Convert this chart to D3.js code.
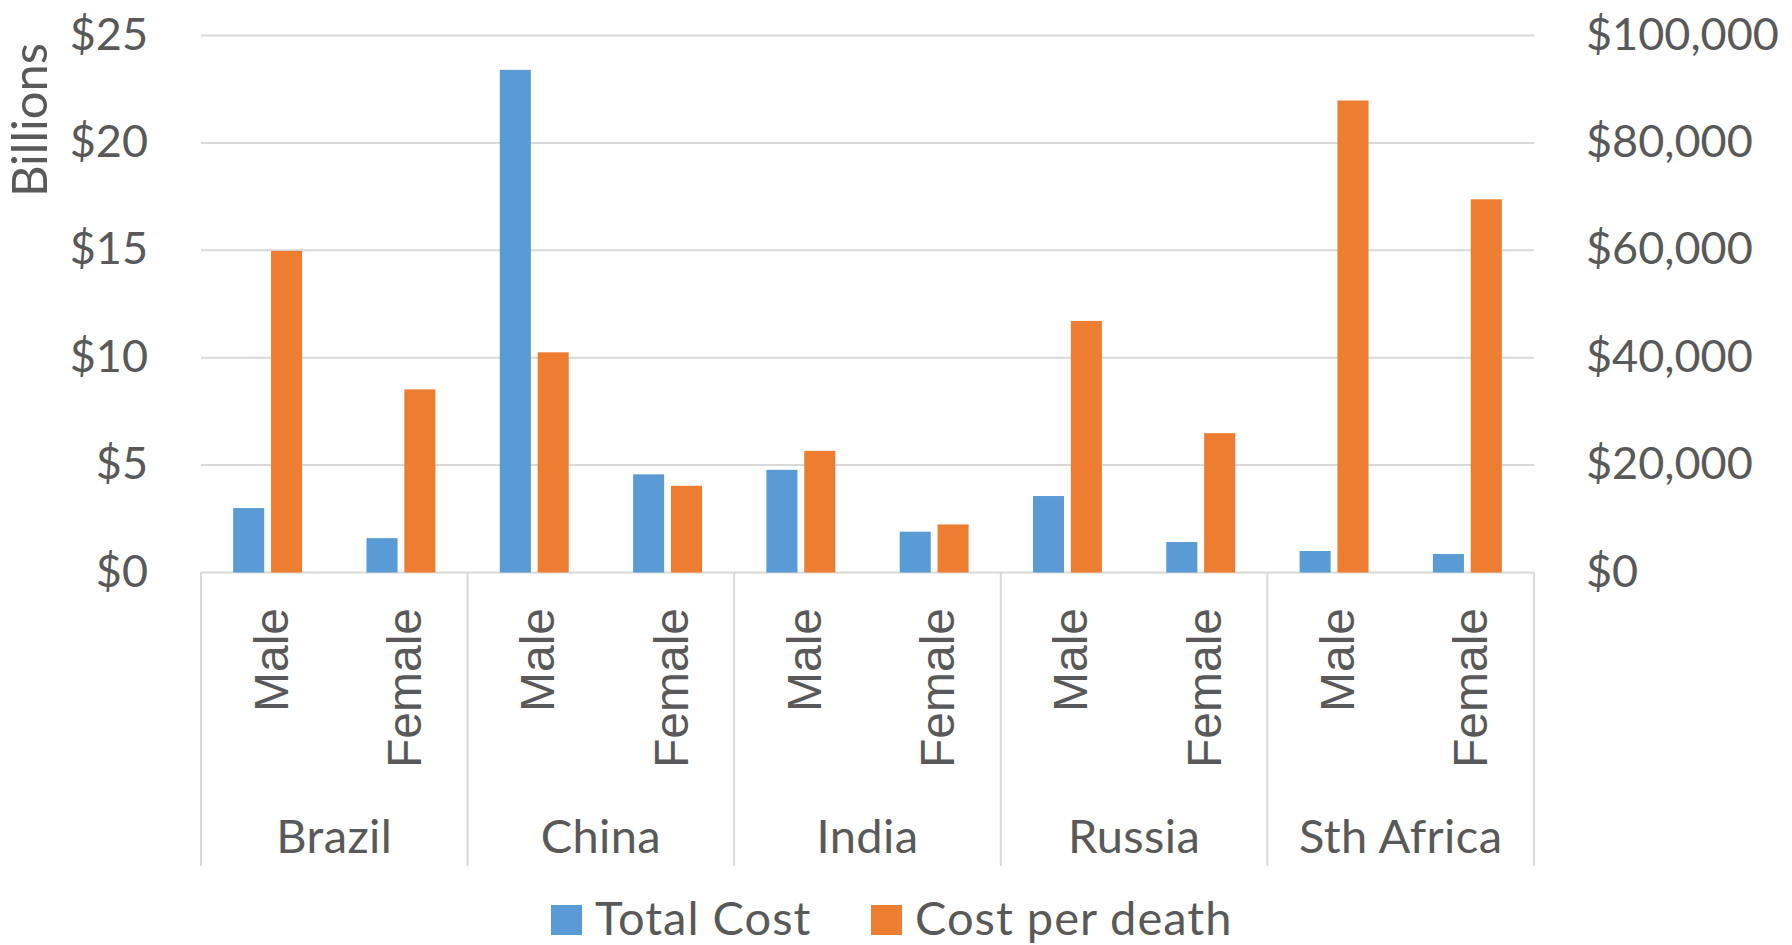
<!DOCTYPE html>
<html>
<head>
<meta charset="utf-8">
<script src="https://cdn.jsdelivr.net/npm/d3@7"></script>
<style>
  body { margin: 0; background: #fff; }
  svg { display: block; }
</style>
</head>
<body>
<div id="chart"></div>
<script>
// data
const countries = ["Brazil", "China", "India", "Russia", "Sth Africa"];
const sexes = ["Male", "Female"];
const series = ["Total Cost", "Cost per death"];
const totalCost = [3.0, 1.6, 23.4, 4.57, 4.78, 1.9, 3.56, 1.42, 1.0, 0.86]; // billions
const costPerDeath = [59900, 34100, 41000, 16150, 22650, 8950, 46850, 25950, 87900, 69500];
const leftTicks = [0, 5, 10, 15, 20, 25];
const rightTicks = [0, 20000, 40000, 60000, 80000, 100000];

const width = 1792;
const height = 945;
const marginLeft = 201;
const marginRight = 258;
const marginTop = 35.5;
const baseline = 572.5;
const axisBottom = 866;

const colors = ["#5b9bd5", "#ed7d31"];
const textColor = "#595959";
const gridColor = "#d9d9d9";
const font = "Lato, 'Open Sans', sans-serif";

// one row per country/sex pair
const rows = [];
countries.forEach((c, i) => sexes.forEach((s, j) => {
  const k = i * sexes.length + j;
  rows.push({ key: c + "|" + s, country: c, sex: s, values: [totalCost[k], costPerDeath[k]] });
}));

const svg = d3.select("#chart").append("svg")
    .attr("viewBox", [0, 0, width, height])
    .attr("width", width)
    .attr("height", height)
    .style("font-family", font);

// scales
const x0 = d3.scaleBand()
    .domain(rows.map(d => d.key))
    .range([marginLeft, width - marginRight]);

const xc = d3.scaleBand()
    .domain(countries)
    .range([marginLeft, width - marginRight]);

const x1 = d3.scaleBand()
    .domain(series)
    .range([0, x0.bandwidth()])
    .paddingInner(0.18)
    .paddingOuter(0.85);

const yL = d3.scaleLinear().domain([0, 25]).range([baseline, marginTop]);
const yR = d3.scaleLinear().domain([0, 100000]).range([baseline, marginTop]);
const scales = [yL, yR];

// gridlines
svg.append("g")
    .selectAll("line")
    .data(leftTicks)
    .join("line")
    .attr("x1", marginLeft)
    .attr("x2", width - marginRight)
    .attr("y1", d => yL(d))
    .attr("y2", d => yL(d))
    .attr("stroke", gridColor)
    .attr("stroke-width", 2);

// bars
svg.append("g")
    .selectAll("g")
    .data(rows)
    .join("g")
    .attr("transform", d => `translate(${x0(d.key)},0)`)
    .selectAll("rect")
    .data(d => d.values.map((v, i) => ({ series: series[i], value: v, i })))
    .join("rect")
    .attr("x", d => x1(d.series))
    .attr("width", x1.bandwidth())
    .attr("y", d => scales[d.i](d.value))
    .attr("height", d => baseline - scales[d.i](d.value))
    .attr("fill", d => colors[d.i]);

// left axis
svg.append("g")
    .attr("transform", `translate(${marginLeft},0)`)
    .call(d3.axisLeft(yL).tickValues(leftTicks).tickFormat(d3.format("$")).tickSize(0).tickPadding(53))
    .call(g => g.select(".domain").remove())
    .call(g => g.selectAll("text")
        .attr("fill", textColor)
        .attr("font-size", 45)
        .attr("font-family", font)
        .attr("dy", "0.3em"));

// right axis
svg.append("g")
    .attr("transform", `translate(${width - marginRight},0)`)
    .call(d3.axisRight(yR).tickValues(rightTicks).tickFormat(d3.format("$,")).tickSize(0).tickPadding(52))
    .call(g => g.select(".domain").remove())
    .call(g => g.selectAll("text")
        .attr("fill", textColor)
        .attr("font-size", 45)
        .attr("font-family", font)
        .attr("dy", "0.3em"));

// category axis: group dividers
const dividers = countries.map(c => xc(c)).concat([width - marginRight]);
svg.append("g")
    .selectAll("line")
    .data(dividers)
    .join("line")
    .attr("x1", d => d)
    .attr("x2", d => d)
    .attr("y1", baseline)
    .attr("y2", axisBottom)
    .attr("stroke", gridColor)
    .attr("stroke-width", 2);

// sex labels (rotated)
svg.append("g")
    .selectAll("text")
    .data(rows)
    .join("text")
    .attr("transform", d => `translate(${x0(d.key) + x0.bandwidth() / 2 + 20},608) rotate(-90)`)
    .attr("text-anchor", "end")
    .attr("fill", textColor)
    .attr("font-family", "'Liberation Sans', Arial, sans-serif")
    .attr("font-size", 48)
    .text(d => d.sex);

// country labels
svg.append("g")
    .selectAll("text")
    .data(countries)
    .join("text")
    .attr("x", d => xc(d) + xc.bandwidth() / 2)
    .attr("y", 853)
    .attr("text-anchor", "middle")
    .attr("fill", textColor)
    .attr("font-size", 47)
    .attr("letter-spacing", 0.4)
    .text(d => d);

// y axis title
svg.append("text")
    .attr("transform", "rotate(-90)")
    .attr("x", -120)
    .attr("y", 47)
    .attr("text-anchor", "middle")
    .attr("fill", textColor)
    .attr("font-size", 49)
    .text("Billions");

// legend
const legendX = [551, 871];
const legend = svg.append("g")
    .selectAll("g")
    .data(series)
    .join("g")
    .attr("transform", (d, i) => `translate(${legendX[i]},905)`);

legend.append("rect")
    .attr("width", 31)
    .attr("height", 30)
    .attr("fill", (d, i) => colors[i]);

legend.append("text")
    .attr("x", 44)
    .attr("y", 30)
    .attr("fill", textColor)
    .attr("font-size", 47)
    .attr("letter-spacing", 1)
    .text(d => d);
</script>
</body>
</html>
